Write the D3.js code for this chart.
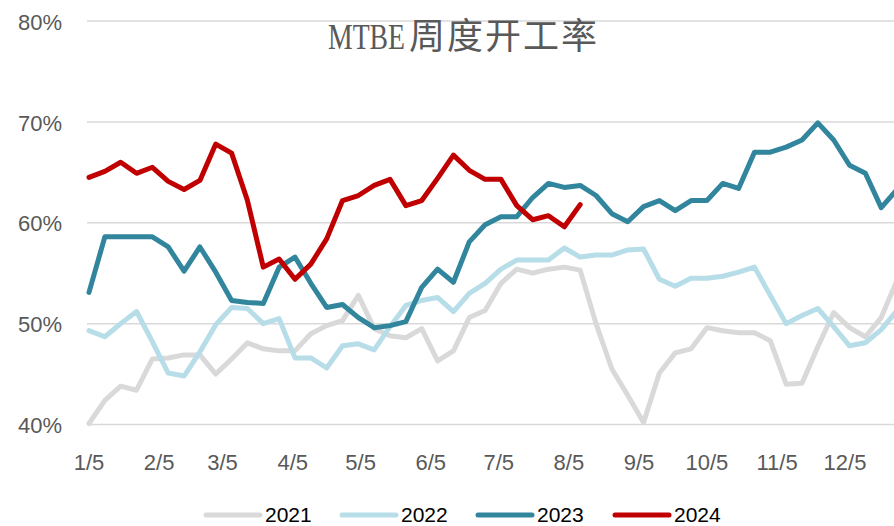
<!DOCTYPE html>
<html>
<head>
<meta charset="utf-8">
<script src="https://cdn.jsdelivr.net/npm/d3@7"></script>
<style>
  body { margin: 0; background: #fff; }
  text { font-family: "Liberation Sans", Arial, sans-serif; }
</style>
</head>
<body>
<div id="chart"></div>
<script>
// weekly MTBE operating rate (%), one value per week starting 1/5
var s2021 = [40.1, 42.4, 43.8, 43.4, 46.5, 46.6, 46.9, 46.9, 45.0, 46.5, 48.1, 47.5, 47.3, 47.3, 49.0, 49.8,
  50.3, 52.8, 49.5, 48.8, 48.6, 49.5, 46.3, 47.3, 50.6, 51.3, 54.0, 55.4, 55.0, 55.4, 55.6, 55.3,
  50.0, 45.5, 42.9, 40.2, 45.1, 47.1, 47.5, 49.6, 49.3, 49.1, 49.1, 48.3, 44.0, 44.1, 47.7, 51.1,
  49.6, 48.7, 50.6, 54.3];
var s2022 = [49.3, 48.7, 50.0, 51.2, 48.2, 45.1, 44.8, 47.2, 49.9, 51.6, 51.5, 50.0, 50.5, 46.6, 46.6, 45.6,
  47.8, 48.0, 47.4, 49.7, 51.8, 52.3, 52.6, 51.2, 53.0, 54.0, 55.4, 56.3, 56.3, 56.3, 57.5, 56.6,
  56.8, 56.8, 57.3, 57.4, 54.4, 53.7, 54.5, 54.5, 54.7, 55.1, 55.6, 52.8, 50.0, 50.8, 51.5, 49.7,
  47.8, 48.1, 49.4, 51.3];
var s2023 = [53.1, 58.6, 58.6, 58.6, 58.6, 57.6, 55.2, 57.6, 55.1, 52.3, 52.1, 52.0, 55.6, 56.6, 54.0, 51.6,
  51.9, 50.6, 49.6, 49.8, 50.2, 53.6, 55.4, 54.1, 58.1, 59.8, 60.6, 60.6, 62.5, 63.9, 63.5, 63.7,
  62.7, 60.9, 60.1, 61.6, 62.2, 61.2, 62.2, 62.2, 63.9, 63.4, 67.0, 67.0, 67.5, 68.2, 69.9, 68.2,
  65.7, 64.9, 61.5, 63.3];
var s2024 = [64.5, 65.1, 66.0, 64.9, 65.5, 64.1, 63.3, 64.2, 67.8, 66.9, 62.2, 55.6, 56.4, 54.4, 55.9, 58.4,
  62.2, 62.7, 63.7, 64.3, 61.7, 62.2, 64.4, 66.7, 65.2, 64.3, 64.3, 61.7, 60.3, 60.7, 59.6, 61.8];

var years = ["2021", "2022", "2023", "2024"];
var colors = ["#d9d9d9", "#b7dde8", "#31859c", "#c00000"];
var seriesList = [s2021, s2022, s2023, s2024];

var tickLabels = ["1/5", "2/5", "3/5", "4/5", "5/5", "6/5", "7/5", "8/5", "9/5", "10/5", "11/5", "12/5"];
var yTicks = [40, 50, 60, 70, 80];

var width = 894, height = 526;

var start = new Date(2023, 0, 5);
var weekDate = function(i) { return d3.timeDay.offset(start, 7 * i); };
var tickDates = tickLabels.map(function(t, i) { return new Date(2023, i, 5); });

var x = d3.scaleTime()
  .domain([start, new Date(2023, 11, 5)])
  .range([89, 845]);

var y = d3.scaleLinear()
  .domain([40, 80])
  .range([424.5, 21]);

var svg = d3.select("#chart").append("svg")
  .attr("width", width)
  .attr("height", height);

// gridlines
svg.append("g")
  .selectAll("line")
  .data(yTicks)
  .enter()
  .append("line")
  .attr("x1", 87)
  .attr("x2", width)
  .attr("y1", d => y(d))
  .attr("y2", d => y(d))
  .attr("stroke", "#d9d9d9")
  .attr("stroke-width", 1.5);

// y labels
svg.append("g")
  .selectAll("text")
  .data(yTicks)
  .enter()
  .append("text")
  .attr("x", 62)
  .attr("y", d => y(d) + 1)
  .attr("dy", "0.35em")
  .attr("text-anchor", "end")
  .attr("fill", "#595959")
  .style("font-size", "22px")
  .text(d => d + "%");

// x labels
svg.append("g")
  .selectAll("text")
  .data(tickDates)
  .enter()
  .append("text")
  .attr("x", d => x(d))
  .attr("y", 462)
  .attr("dy", "0.35em")
  .attr("text-anchor", "middle")
  .attr("fill", "#595959")
  .style("font-size", "22px")
  .text((d, i) => tickLabels[i]);

// lines
var line = d3.line()
  .x((d, i) => x(weekDate(i)))
  .y(d => y(d));

svg.append("g")
  .selectAll("path")
  .data(seriesList)
  .enter()
  .append("path")
  .attr("d", d => line(d))
  .attr("fill", "none")
  .attr("stroke", (d, i) => colors[i])
  .attr("stroke-width", 5)
  .attr("stroke-linejoin", "round")
  .attr("stroke-linecap", "round");

// title (latin part squeezed narrow + chinese part)
svg.append("text")
  .attr("transform", "translate(328, 49) scale(0.77, 1)")
  .attr("fill", "#595959")
  .style("font-size", "36px")
  .style("font-family", "'Liberation Serif', serif")
  .text("MTBE");

svg.append("text")
  .attr("x", 409)
  .attr("y", 49)
  .attr("fill", "#595959")
  .style("font-size", "36px")
  .style("font-family", "'Noto Sans CJK SC', sans-serif")
  .style("letter-spacing", "2px")
  .text("周度开工率");

// legend
var legendX = [206, 342, 478, 615];
var legend = svg.append("g")
  .selectAll("g")
  .data(years)
  .enter()
  .append("g")
  .attr("transform", (d, i) => `translate(${legendX[i]}, 515)`);

legend.append("line")
  .attr("x1", 0)
  .attr("x2", 54)
  .attr("stroke", (d, i) => colors[i])
  .attr("stroke-width", 5)
  .attr("stroke-linecap", "round");

legend.append("text")
  .attr("x", 59)
  .attr("dy", "0.35em")
  .attr("fill", "#000")
  .style("font-size", "21px")
  .text(d => d);
</script>
</body>
</html>
